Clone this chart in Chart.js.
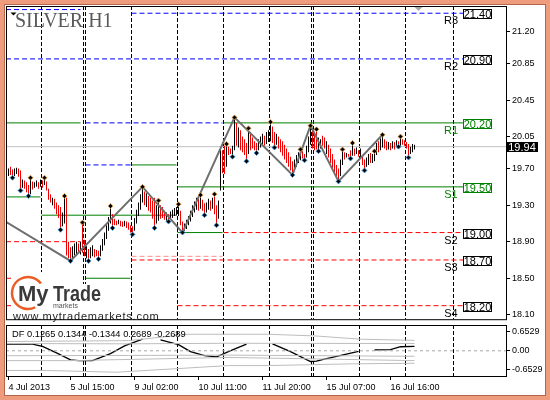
<!DOCTYPE html>
<html>
<head>
<meta charset="utf-8">
<script src="https://cdn.jsdelivr.net/npm/chart.js@4.4.0/dist/chart.umd.min.js"></script>
<style>
  html, body { margin: 0; padding: 0; background: #fff; }
  #wrap { position: relative; width: 550px; height: 400px; overflow: hidden; background: #fff; }
  #main { position: absolute; left: 0; top: 0; width: 550px; height: 324px; }
  #ind { position: absolute; left: 0; top: 324px; width: 550px; height: 76px; }
  #frame { position: absolute; left: 0; top: 0; width: 550px; height: 400px; box-sizing: border-box;
           border: 4px solid #ee9c7e; box-shadow: inset 0 0 0 1px #b8664a; pointer-events: none; }
</style>
</head>
<body>
<div id="wrap">
  <canvas id="main" width="550" height="324"></canvas>
  <canvas id="ind" width="550" height="76"></canvas>
  <div id="frame"></div>
</div>
<script>
// H1 bars, one per hour, index 0 = first visible bar
const barHigh = [
  19.70,19.72,19.69,19.70,19.71,19.70,19.68,19.58,19.57,19.55,
  19.52,19.60,19.56,19.55,19.57,19.55,19.58,19.57,19.60,19.56,
  19.48,19.42,19.38,19.37,19.33,19.30,19.28,19.22,19.40,19.38,
  18.90,18.84,18.85,18.88,18.90,18.88,18.90,19.11,18.92,18.85,
  18.82,18.84,18.86,18.82,18.81,18.80,18.86,18.93,19.00,19.08,
  19.17,19.29,19.20,19.15,19.13,19.14,19.13,19.12,19.13,19.12,
  19.11,19.08,19.07,19.16,19.25,19.33,19.42,19.50,19.45,19.43,
  19.40,19.38,19.35,19.38,19.30,19.35,19.30,19.28,19.24,19.22,
  19.20,19.23,19.25,19.27,19.28,19.31,19.24,19.12,19.10,19.14,
  19.18,19.24,19.30,19.34,19.38,19.37,19.41,19.36,19.32,19.33,
  19.37,19.35,19.38,19.42,19.30,19.35,19.92,19.90,19.95,19.97,
  19.94,19.92,19.95,20.26,20.20,20.15,20.12,20.05,20.02,19.98,
  20.14,20.10,20.04,20.00,19.98,20.02,20.05,20.08,20.06,20.10,
  20.12,20.21,20.16,20.10,20.08,20.05,20.02,20.00,19.96,19.92,
  19.88,19.83,19.78,19.80,19.85,19.88,19.91,19.89,19.86,19.95,
  20.05,20.17,20.12,20.08,20.13,20.04,20.02,20.06,20.04,20.00,
  19.96,19.92,19.86,19.80,19.74,19.70,19.80,19.91,19.88,19.87,
  19.86,19.90,19.98,19.92,19.93,19.90,19.92,19.85,19.80,19.82,
  19.86,19.87,19.86,19.89,19.98,20.00,20.03,20.07,20.02,20.00,
  19.99,19.98,20.00,19.99,20.01,20.00,20.05,20.02,20.01,19.99,
  19.97,19.94,19.97,19.96
];
const barLow = [
  19.62,19.63,19.60,19.62,19.64,19.61,19.46,19.49,19.48,19.44,
  19.40,19.42,19.47,19.49,19.50,19.48,19.50,19.49,19.52,19.46,
  19.36,19.33,19.30,19.26,19.20,19.16,19.03,19.07,19.10,18.75,
  18.72,18.69,18.72,18.75,18.76,18.77,18.76,18.78,18.74,18.72,
  18.69,18.72,18.74,18.73,18.74,18.71,18.74,18.80,18.86,18.93,
  19.02,19.10,19.05,19.08,19.08,19.09,19.07,19.06,19.07,19.05,
  19.03,19.00,18.98,19.02,19.10,19.18,19.25,19.33,19.30,19.28,
  19.24,19.22,19.15,19.05,19.10,19.13,19.15,19.16,19.14,19.13,
  19.12,19.14,19.16,19.18,19.19,19.18,19.08,19.00,19.02,19.04,
  19.08,19.12,19.17,19.22,19.25,19.24,19.26,19.24,19.19,19.22,
  19.25,19.24,19.26,19.20,19.08,19.15,19.46,19.65,19.64,19.72,
  19.85,19.86,19.83,19.90,19.95,19.93,19.90,19.88,19.85,19.78,
  19.86,19.90,19.92,19.90,19.87,19.90,19.93,19.96,19.95,19.97,
  19.99,20.00,19.98,19.93,19.96,19.92,19.88,19.84,19.80,19.76,
  19.72,19.68,19.63,19.68,19.72,19.76,19.79,19.81,19.79,19.82,
  19.88,19.96,19.92,19.90,19.91,19.89,19.92,19.95,19.92,19.86,
  19.82,19.76,19.70,19.64,19.60,19.56,19.62,19.74,19.80,19.82,
  19.83,19.81,19.84,19.84,19.86,19.83,19.82,19.74,19.68,19.72,
  19.74,19.76,19.76,19.78,19.85,19.88,19.90,19.93,19.92,19.90,
  19.91,19.90,19.92,19.91,19.95,19.94,19.95,19.96,19.95,19.92,
  19.82,19.86,19.88,19.91
];
// 1 = up bar (black), 0 = down bar (red)
const barUp = [
  1,0,0,1,1,0,0,1,0,0, 0,1,0,1,1,0,1,0,1,0, 0,0,1,0,0,0,0,1,1,0, 0,0,1,1,1,0,1,0,0,1,
  0,1,1,0,0,0,1,1,1,1, 1,1,0,0,0,1,0,0,1,0, 0,0,0,1,1,1,1,1,0,1, 0,0,0,0,1,1,0,0,0,1,
  0,1,1,1,1,1,0,0,1,1, 1,1,1,1,1,0,1,0,0,1, 1,0,1,0,0,1,1,0,0,1, 0,0,1,1,0,1,0,0,0,0,
  1,0,0,0,0,1,1,1,0,1, 1,1,0,0,1,0,0,0,0,0, 0,0,0,1,1,1,1,0,0,1, 1,1,0,0,0,1,1,0,0,1,
  0,0,0,0,0,0,1,1,0,1, 0,0,1,0,1,0,1,0,0,1, 1,0,1,1,1,0,1,1,0,0, 1,0,1,0,1,0,1,0,0,0,
  0,1,1,1
];

const zigIdx = [-12, 31, 67, 87, 113, 142, 151, 165, 187];
const zigPrice = [19.26, 18.69, 19.50, 19.00, 20.26, 19.63, 20.17, 19.56, 20.07];

const fracUpIdx = [11, 18, 28, 37, 51, 67, 75, 85, 96, 103, 109, 113, 120, 131, 146, 151, 154, 167, 172, 183, 187, 196];
const fracUpPrice = [19.60, 19.60, 19.40, 19.11, 19.29, 19.50, 19.35, 19.31, 19.41, 19.42, 19.97, 20.26, 20.14, 20.21, 19.91, 20.17, 20.13, 19.91, 19.98, 19.89, 20.07, 20.05];
const fracDnIdx = [2, 6, 10, 26, 31, 40, 45, 52, 62, 73, 80, 87, 98, 104, 112, 119, 124, 133, 142, 148, 155, 165, 171, 178, 195, 200];
const fracDnPrice = [19.60, 19.46, 19.40, 19.03, 18.69, 18.69, 18.71, 19.05, 18.98, 19.05, 19.12, 19.00, 19.19, 19.08, 19.83, 19.78, 19.87, 19.93, 19.63, 19.79, 19.89, 19.56, 19.81, 19.68, 19.94, 19.82];

// day separators, between bars
const daySeparators = [16.5, 37.5, 38.5, 61.5, 84.5, 107.5, 130.5, 151.5, 152.5, 175.5, 198.5, 222.5];

// daily pivot segments (bar index range, price, kind)
const segFrom  = [-1.25, 61.5, -1.25, -1.25, 38.5, 107.5, 38.5, 61.5, 84.5, -1.25, 16.5, 84.5, 107.5, -1.25, 61.5, 61.5, 38.5, -1.25, 84.5, -1.25];
const segTo    = [36, 227.25, 227.25, 36, 107, 227.25, 61, 84, 227.25, 16, 84, 107, 227.25, 36, 107, 227.25, 61, 36, 227.25, 36];
const segPrice = [21.44, 21.40, 20.90, 20.20, 20.20, 20.20, 19.74, 19.74, 19.50, 19.39, 19.19, 19.00, 19.00, 18.90, 18.74, 18.70, 18.50, 18.50, 18.20, 18.20];
const segKind  = ['b', 'b', 'b', 'g', 'b', 'g', 'b', 'g', 'g', 'g', 'g', 'g', 'r', 'r', 'p', 'r', 'g', 'r', 'r', 'r'];

const levelNames = ['R3', 'R2', 'R1', 'S1', 'S2', 'S3', 'S4'];
const levelValues = [21.40, 20.90, 20.20, 19.50, 19.00, 18.70, 18.20];
const levelKind = ['b', 'b', 'g', 'g', 'r', 'r', 'r'];
const lastPrice = 19.94;

const priceTicks = [21.20, 20.85, 20.45, 20.05, 19.70, 19.30, 18.90, 18.50, 18.10];
const timeTickIdx = [0, 31, 63, 95, 127, 159, 191];
const timeLabels = ['4 Jul 2013', '5 Jul 15:00', '9 Jul 02:00', '10 Jul 11:00', '11 Jul 20:00', '15 Jul 07:00', '16 Jul 16:00'];

// DF oscillator
const dfIdx = [-1.25, 12, 17, 24, 31, 35, 42, 51, 58, 67, 71, 76, 85, 91, 98, 104, 112, 119, 125, 132, 141, 151, 154, 158, 175, 179, 183, 191, 196, 203];
const dfVal = [0.23, 0.23, 0.15, -0.07, -0.31, -0.34, -0.34, -0.10, 0.17, 0.40, null, 0.38, 0.21, -0.03, -0.17, -0.21, 0.03, 0.23, null, 0.24, -0.03, -0.37, -0.36, -0.29, -0.02, null, 0.03, 0.04, 0.14, 0.15];
const bandAIdx = [-1.25, 60, 90, 130, 154, 176, 203];
const bandAVal = [0.32, 0.35, 0.57, 0.57, 0.51, 0.40, 0.36];
const bandBIdx = [-1.25, 60, 110, 203];
const bandBVal = [0.25, 0.24, 0.26, 0.25];
const bandCIdx = [-1.25, 60, 110, 203];
const bandCVal = [-0.17, -0.16, -0.15, -0.19];
const bandDIdx = [-1.25, 30, 110, 154, 203];
const bandDVal = [-0.34, -0.34, -0.23, -0.28, -0.34];
const bandEIdx = [-1.25, 19, 54, 110, 130, 172, 203];
const bandEVal = [-0.68, -0.68, -0.74, -0.51, -0.51, -0.45, -0.43];
const oscTicks = [0.6529, 0, -0.6529];
const dfLegend = 'DF 0.1265 0.1344 -0.1344 0.2689 -0.2689';

const X_MIN = -1.25, X_MAX = 248.75;
const LABEL_AT = 227.25;
const KIND_COLOR = { g: '#008000', b: '#0000ff', r: '#ff0000', p: '#ff8c8c' };
const FONT = '"Liberation Sans", Arial, sans-serif';

Chart.defaults.font.family = FONT;
Chart.defaults.font.size = 9;
Chart.defaults.color = '#000';

const pts = (xs, ys) => xs.map((x, k) => ({ x, y: ys[k] }));

const separators = {
  id: 'separators',
  beforeDatasetsDraw(chart) {
    const { ctx, chartArea: a, scales: { x } } = chart;
    ctx.save();
    ctx.strokeStyle = '#000';
    ctx.lineWidth = 1;
    ctx.setLineDash([4, 2]);
    daySeparators.forEach(s => {
      const px = x.getPixelForValue(s);
      ctx.beginPath();
      ctx.moveTo(px, a.top);
      ctx.lineTo(px, a.bottom);
      ctx.stroke();
    });
    ctx.restore();
  }
};

const frame = {
  id: 'frame',
  afterDraw(chart) {
    const { ctx, chartArea: a } = chart;
    ctx.save();
    ctx.strokeStyle = '#000';
    ctx.lineWidth = 1;
    ctx.strokeRect(a.left + 0.5, a.top + 0.5, a.right - a.left, a.bottom - a.top);
    ctx.restore();
  }
};

const mainDecor = {
  id: 'mainDecor',
  afterDatasetsDraw(chart) {
    const { ctx, scales: { x, y } } = chart;
    ctx.save();
    // levels labels on the right
    const bx = x.getPixelForValue(LABEL_AT);
    levelValues.forEach((v, k) => {
      const py = Math.round(y.getPixelForValue(v));
      const col = levelKind[k] === 'g' ? '#008000' : '#000';
      ctx.fillStyle = '#fff';
      ctx.fillRect(bx, py - 4, 28, 10);
      ctx.strokeStyle = col;
      ctx.lineWidth = 1;
      ctx.strokeRect(bx + 0.5, py - 3.5, 28, 9);
      ctx.fillStyle = col;
      ctx.font = '11px ' + FONT;
      ctx.textAlign = 'center';
      ctx.textBaseline = 'middle';
      ctx.fillText(v.toFixed(2), bx + 14.5, py + 1.5);
      ctx.fillText(levelNames[k], bx - 12, py + 8);
    });
    // logo
    ctx.fillStyle = '#fff';
    ctx.fillRect(12, 272, 70, 50);
    ctx.fillRect(82, 284, 40, 38);
    ctx.beginPath();
    ctx.arc(28, 293, 16, 0.35 * Math.PI, 1.8 * Math.PI);
    ctx.strokeStyle = '#ea5d26';
    ctx.lineWidth = 2.5;
    ctx.stroke();
    ctx.textAlign = 'left';
    ctx.textBaseline = 'alphabetic';
    ctx.fillStyle = '#3a3a3a';
    ctx.font = 'bold 22px ' + FONT;
    ctx.fillText('My', 18, 301);
    ctx.fillText('Trade', 53, 301, 48);
    ctx.fillStyle = '#555';
    ctx.font = '7px ' + FONT;
    ctx.fillText('markets', 53, 308);
    ctx.fillStyle = '#1e1e1e';
    ctx.font = '11px ' + FONT;
    if ('letterSpacing' in ctx) ctx.letterSpacing = '0.8px';
    ctx.fillText('www.mytrademarkets.com', 13, 319.5);
    ctx.restore();
  },
  afterDraw(chart) {
    const { ctx, scales: { y } } = chart;
    ctx.save();
    // last price tag
    const py = Math.round(y.getPixelForValue(lastPrice));
    ctx.fillStyle = '#000';
    ctx.fillRect(506, py - 5, 32, 10);
    ctx.fillStyle = '#fff';
    ctx.font = '11px ' + FONT;
    ctx.textAlign = 'center';
    ctx.textBaseline = 'middle';
    ctx.fillText(lastPrice.toFixed(2), 522, py + 0.5);
    // title
    ctx.textAlign = 'left';
    ctx.textBaseline = 'alphabetic';
    ctx.fillStyle = '#5a5a5a';
    ctx.font = '20px "Liberation Serif", "Times New Roman", serif';
    ctx.fillText('SILVER H1', 15, 27);
    ctx.fillStyle = '#000';
    ctx.beginPath();
    ctx.moveTo(10.5, 12.5); ctx.lineTo(16.5, 12.5); ctx.lineTo(13.5, 15.5); ctx.closePath();
    ctx.fill();
    ctx.fillStyle = '#a8a8a8';
    ctx.beginPath();
    ctx.moveTo(414.5, 7); ctx.lineTo(422.5, 7); ctx.lineTo(418.5, 11); ctx.closePath();
    ctx.fill();
    ctx.restore();
  }
};

const mainSets = [];
segFrom.forEach((f, k) => {
  mainSets.push({
    type: 'line',
    data: [{ x: f, y: segPrice[k] }, { x: segTo[k], y: segPrice[k] }],
    borderColor: KIND_COLOR[segKind[k]],
    borderWidth: 1,
    borderDash: segKind[k] === 'g' ? [] : [5, 3],
    pointRadius: 0,
    order: 5,
    clip: 0
  });
});
mainSets.push({
  type: 'line',
  data: [{ x: X_MIN, y: lastPrice }, { x: X_MAX, y: lastPrice }],
  borderColor: '#c0c0c0', borderWidth: 1, pointRadius: 0, order: 6, clip: 0
});
mainSets.push({
  type: 'bar',
  data: barHigh.map((h, i) => ({ x: i, y: [barLow[i], h] })),
  backgroundColor: barUp.map(u => (u ? '#000' : '#f00000')),
  barThickness: 1,
  borderWidth: 0,
  inflateAmount: 0,
  order: 3
});
mainSets.push({
  type: 'line',
  data: pts(zigIdx, zigPrice),
  borderColor: '#6e6e6e', borderWidth: 2, pointRadius: 0, order: 2, clip: 0
});
mainSets.push({
  type: 'line', showLine: false,
  data: pts(fracUpIdx, fracUpPrice),
  pointStyle: 'rectRot', pointRadius: 2.5,
  pointBackgroundColor: '#000', pointBorderColor: '#e8a040', pointBorderWidth: 0.8, order: 1
});
mainSets.push({
  type: 'line', showLine: false,
  data: pts(fracDnIdx, fracDnPrice),
  pointStyle: 'rectRot', pointRadius: 2.5,
  pointBackgroundColor: '#000', pointBorderColor: '#40a0e8', pointBorderWidth: 0.8, order: 1
});

new Chart(document.getElementById('main'), {
  type: 'bar',
  data: { datasets: mainSets },
  options: {
    responsive: false,
    animation: false,
    layout: { padding: { left: 6, top: 6, right: 0, bottom: 2 } },
    plugins: { legend: { display: false }, tooltip: { enabled: false } },
    scales: {
      x: { type: 'linear', min: X_MIN, max: X_MAX, offset: false, display: false },
      y: {
        position: 'right', min: 18.052, max: 21.479,
        afterBuildTicks: s => { s.ticks = priceTicks.map(v => ({ value: v })); },
        afterFit: s => { s.width = 44; s.paddingTop = 0; s.paddingBottom = 0; },
        grid: { drawOnChartArea: false, drawTicks: true, tickLength: 4, color: '#000' },
        border: { display: false },
        ticks: { padding: 2, color: '#000', callback: v => Number(v).toFixed(2) }
      }
    }
  },
  plugins: [separators, mainDecor, frame]
});

const indDecor = {
  id: 'indDecor',
  afterDatasetsDraw(chart) {
    const { ctx } = chart;
    ctx.save();
    ctx.fillStyle = '#000';
    ctx.font = '9.3px ' + FONT;
    ctx.textAlign = 'left';
    ctx.textBaseline = 'middle';
    ctx.fillText(dfLegend, 12, 10.5);
    ctx.restore();
  }
};

const band = (xs, ys) => ({
  data: pts(xs, ys), borderColor: '#bdbdbd', borderWidth: 1, pointRadius: 0, clip: 0
});

new Chart(document.getElementById('ind'), {
  type: 'line',
  data: {
    datasets: [
      { data: [{ x: X_MIN, y: 0 }, { x: X_MAX, y: 0 }], borderColor: '#a8a8a8', borderDash: [3, 3], borderWidth: 1, pointRadius: 0, clip: 0 },
      band(bandAIdx, bandAVal),
      band(bandBIdx, bandBVal),
      band(bandCIdx, bandCVal),
      band(bandDIdx, bandDVal),
      band(bandEIdx, bandEVal),
      { data: pts(dfIdx, dfVal), borderColor: '#000', borderWidth: 1.3, pointRadius: 0, spanGaps: false, clip: 0 }
    ]
  },
  options: {
    responsive: false,
    animation: false,
    layout: { padding: { left: 6, top: 1, right: 0, bottom: 0 } },
    plugins: { legend: { display: false }, tooltip: { enabled: false } },
    scales: {
      x: {
        type: 'linear', min: X_MIN, max: X_MAX, offset: false,
        afterBuildTicks: s => { s.ticks = timeTickIdx.map(v => ({ value: v })); },
        afterFit: s => { s.height = 24; s.paddingLeft = 0; s.paddingRight = 0; },
        grid: { drawOnChartArea: false, drawTicks: true, tickLength: 4, color: '#000' },
        border: { display: false },
        ticks: { align: 'start', autoSkip: false, maxRotation: 0, minRotation: 0, padding: 2, color: '#000',
                 callback: (v, k) => timeLabels[k] }
      },
      y: {
        position: 'right', min: -0.87, max: 0.89,
        afterBuildTicks: s => { s.ticks = oscTicks.map(v => ({ value: v })); },
        afterFit: s => { s.width = 44; s.paddingTop = 0; s.paddingBottom = 0; },
        grid: { drawOnChartArea: false, drawTicks: true, tickLength: 4, color: '#000' },
        border: { display: false },
        ticks: { padding: 2, color: '#000', callback: v => (v === 0 ? '0.00' : Number(v).toFixed(4)) }
      }
    }
  },
  plugins: [separators, indDecor, frame]
});
</script>
</body>
</html>
